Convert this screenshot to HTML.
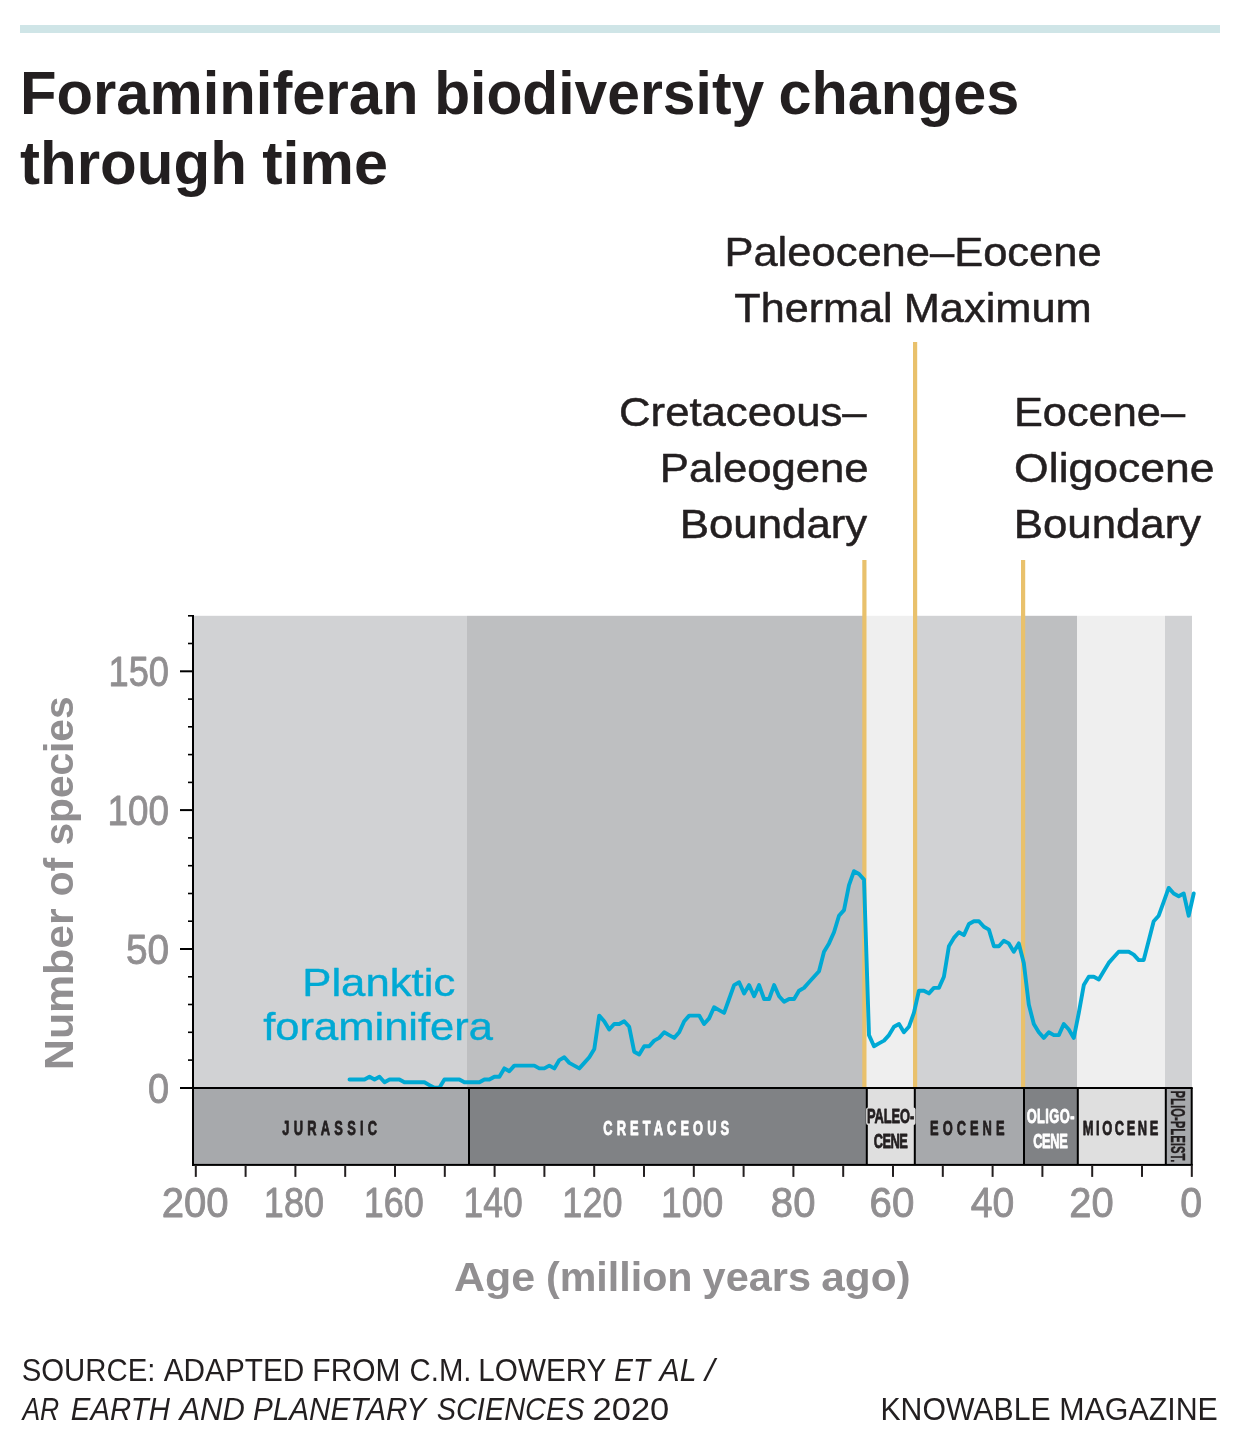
<!DOCTYPE html>
<html lang="en">
<head>
<meta charset="utf-8">
<title>Foraminiferan biodiversity changes through time</title>
<style>
html,body{margin:0;padding:0;background:#fff;}
svg{display:block;font-family:"Liberation Sans",sans-serif;}
text{white-space:pre;}
</style>
</head>
<body>
<svg width="1240" height="1442" viewBox="0 0 1240 1442">
<rect width="1240" height="1442" fill="#fff"/>
<rect x="20" y="25" width="1200" height="8" fill="#cfe5e7"/>
<rect x="194" y="615.8" width="273.0" height="472.20000000000005" fill="#d1d2d4"/>
<rect x="467" y="615.8" width="397.4" height="472.20000000000005" fill="#bebfc1"/>
<rect x="864.4" y="615.8" width="50.6" height="472.20000000000005" fill="#efefef"/>
<rect x="915" y="615.8" width="108.0" height="472.20000000000005" fill="#d1d2d4"/>
<rect x="1023" y="615.8" width="54.0" height="472.20000000000005" fill="#bebfc1"/>
<rect x="1077" y="615.8" width="88.0" height="472.20000000000005" fill="#efefef"/>
<rect x="1165" y="615.8" width="27.0" height="472.20000000000005" fill="#d1d2d4"/>
<rect x="862.3" y="560" width="4.2" height="527" fill="#e9c16c"/>
<rect x="913.0" y="342" width="4.2" height="745" fill="#e9c16c"/>
<rect x="1021.0" y="560" width="4.2" height="527" fill="#e9c16c"/>
<polyline points="349.5,1079.5 354.5,1079.5 359.5,1079.5 364.5,1079.5 369.5,1076.7 374.5,1079.5 379.5,1076.7 384.5,1082.3 389.5,1079.5 394.5,1079.5 399.4,1079.5 404.4,1082.3 409.4,1082.3 414.4,1082.3 419.4,1082.3 424.4,1082.3 429.4,1085.1 434.4,1087.8 439.4,1087.8 444.4,1079.5 449.4,1079.5 454.4,1079.5 459.4,1079.5 464.4,1082.3 469.4,1082.3 474.4,1082.3 479.4,1082.3 484.4,1079.5 489.4,1079.5 494.4,1076.7 499.4,1076.7 504.3,1068.4 509.3,1071.2 514.3,1065.6 519.3,1065.6 524.3,1065.6 529.3,1065.6 534.3,1065.6 539.3,1068.4 544.3,1068.4 549.3,1065.6 554.3,1068.4 559.3,1060.1 564.3,1057.3 569.3,1062.9 574.3,1065.6 579.3,1068.4 584.3,1062.9 589.3,1057.3 594.3,1049.0 599.2,1015.6 604.2,1021.2 609.2,1029.5 614.2,1024.0 619.2,1024.0 624.2,1021.2 629.2,1026.8 634.2,1051.7 639.2,1054.5 644.2,1046.2 649.2,1046.2 654.2,1040.6 659.2,1037.9 664.2,1032.3 669.2,1035.1 674.2,1037.9 679.2,1032.3 684.2,1021.2 689.2,1015.6 694.2,1015.6 699.2,1015.6 704.1,1024.0 709.1,1018.4 714.1,1007.3 719.1,1010.1 724.1,1012.9 729.1,999.0 734.1,985.1 739.1,982.3 744.1,993.4 749.1,985.1 754.1,996.2 759.1,985.1 764.1,999.0 769.1,999.0 774.1,985.1 779.1,996.2 784.1,1001.8 789.1,999.0 794.1,999.0 799.0,990.7 804.0,987.9 809.0,982.3 814.0,976.8 819.0,971.2 824.0,951.8 829.0,943.4 834.0,932.3 839.0,915.7 844.0,910.1 849.0,885.1 854.0,871.2 859.0,874.0 864.0,879.6 869.0,1035.1 874.0,1046.2 879.0,1043.4 884.0,1040.6 889.0,1035.1 894.0,1026.8 899.0,1024.0 903.9,1032.3 908.9,1026.8 913.9,1012.9 918.9,990.7 923.9,990.7 928.9,993.4 933.9,987.9 938.9,987.9 943.9,976.8 948.9,946.2 953.9,937.9 958.9,932.3 963.9,935.1 968.9,924.0 973.9,921.2 978.9,921.2 983.9,926.8 988.9,929.6 993.9,946.2 998.9,946.2 1003.8,940.7 1008.8,943.4 1013.8,951.8 1018.8,943.4 1023.8,962.9 1028.8,1004.5 1033.8,1024.0 1038.8,1032.3 1043.8,1037.9 1048.8,1032.3 1053.8,1035.1 1058.8,1035.1 1063.8,1024.0 1068.8,1029.5 1073.8,1037.9 1078.8,1012.9 1083.8,985.1 1088.8,976.8 1093.8,976.8 1098.8,979.5 1103.7,971.2 1108.7,962.9 1113.7,957.3 1118.7,951.8 1123.7,951.8 1128.7,951.8 1133.7,954.6 1138.7,960.1 1143.7,960.1 1148.7,940.7 1153.7,921.2 1158.7,915.7 1163.7,901.8 1168.7,887.9 1173.7,893.5 1178.7,896.2 1183.7,893.5 1188.7,915.7 1193.7,893.5" fill="none" stroke="#00a9d4" stroke-width="3.9" stroke-linejoin="round" stroke-linecap="round"/>
<rect x="193" y="1088" width="276.0" height="77" fill="#a7a9ac"/>
<rect x="469" y="1088" width="397.8" height="77" fill="#808285"/>
<rect x="866.8" y="1088" width="48.0" height="77" fill="#dfdfdf"/>
<rect x="914.8" y="1088" width="109.2" height="77" fill="#a7a9ac"/>
<rect x="1024" y="1088" width="53.8" height="77" fill="#808285"/>
<rect x="1077.8" y="1088" width="88.0" height="77" fill="#dfdfdf"/>
<rect x="1165.8" y="1088" width="25.9" height="77" fill="#a7a9ac"/>
<rect x="192" y="615" width="2" height="550.9" fill="#000"/>
<rect x="180" y="1087" width="1012.7" height="2" fill="#000"/>
<rect x="192" y="1163.9" width="1000.7" height="2" fill="#000"/>
<rect x="468.0" y="1088" width="2" height="77" fill="#000"/>
<rect x="865.8" y="1088" width="2" height="77" fill="#000"/>
<rect x="913.8" y="1088" width="2" height="77" fill="#000"/>
<rect x="1023.0" y="1088" width="2" height="77" fill="#000"/>
<rect x="1076.8" y="1088" width="2" height="77" fill="#000"/>
<rect x="1164.8" y="1088" width="2" height="77" fill="#000"/>
<rect x="1190.7" y="1088" width="2" height="77" fill="#000"/>
<rect x="188" y="1059.3" width="5" height="1.6" fill="#000"/>
<rect x="188" y="1031.5" width="5" height="1.6" fill="#000"/>
<rect x="188" y="1003.7" width="5" height="1.6" fill="#000"/>
<rect x="188" y="976.0" width="5" height="1.6" fill="#000"/>
<rect x="180" y="948.0" width="13" height="2" fill="#000"/>
<rect x="188" y="920.4" width="5" height="1.6" fill="#000"/>
<rect x="188" y="892.7" width="5" height="1.6" fill="#000"/>
<rect x="188" y="864.9" width="5" height="1.6" fill="#000"/>
<rect x="188" y="837.1" width="5" height="1.6" fill="#000"/>
<rect x="180" y="809.1" width="13" height="2" fill="#000"/>
<rect x="188" y="781.6" width="5" height="1.6" fill="#000"/>
<rect x="188" y="753.8" width="5" height="1.6" fill="#000"/>
<rect x="188" y="726.0" width="5" height="1.6" fill="#000"/>
<rect x="188" y="698.3" width="5" height="1.6" fill="#000"/>
<rect x="180" y="670.3" width="13" height="2" fill="#000"/>
<rect x="188" y="642.7" width="5" height="1.6" fill="#000"/>
<rect x="188" y="615.0" width="5" height="1.6" fill="#000"/>
<rect x="1190.8" y="1165" width="2" height="11.9" fill="#231f20"/>
<rect x="1141.0" y="1165" width="2" height="11.9" fill="#231f20"/>
<rect x="1091.2" y="1165" width="2" height="11.9" fill="#231f20"/>
<rect x="1041.4" y="1165" width="2" height="11.9" fill="#231f20"/>
<rect x="991.6" y="1165" width="2" height="11.9" fill="#231f20"/>
<rect x="941.8" y="1165" width="2" height="11.9" fill="#231f20"/>
<rect x="892.0" y="1165" width="2" height="11.9" fill="#231f20"/>
<rect x="842.2" y="1165" width="2" height="11.9" fill="#231f20"/>
<rect x="792.4" y="1165" width="2" height="11.9" fill="#231f20"/>
<rect x="742.6" y="1165" width="2" height="11.9" fill="#231f20"/>
<rect x="692.8" y="1165" width="2" height="11.9" fill="#231f20"/>
<rect x="643.0" y="1165" width="2" height="11.9" fill="#231f20"/>
<rect x="593.2" y="1165" width="2" height="11.9" fill="#231f20"/>
<rect x="543.4" y="1165" width="2" height="11.9" fill="#231f20"/>
<rect x="493.6" y="1165" width="2" height="11.9" fill="#231f20"/>
<rect x="443.8" y="1165" width="2" height="11.9" fill="#231f20"/>
<rect x="394.0" y="1165" width="2" height="11.9" fill="#231f20"/>
<rect x="344.2" y="1165" width="2" height="11.9" fill="#231f20"/>
<rect x="294.4" y="1165" width="2" height="11.9" fill="#231f20"/>
<rect x="244.6" y="1165" width="2" height="11.9" fill="#231f20"/>
<rect x="194.8" y="1165" width="2" height="11.9" fill="#231f20"/>
<text transform="translate(20.08 113.90) scale(0.9799 1)" font-size="61" fill="#231f20" font-weight="bold">Foraminiferan</text>
<text transform="translate(434.14 113.90) scale(0.9642 1)" font-size="61" fill="#231f20" font-weight="bold">biodiversity</text>
<text transform="translate(778.57 113.90) scale(0.9728 1)" font-size="61" fill="#231f20" font-weight="bold">changes</text>
<text transform="translate(20.06 183.70) scale(0.9847 1)" font-size="61" fill="#231f20" font-weight="bold">through</text>
<text transform="translate(262.15 183.70) scale(1.0033 1)" font-size="61" fill="#231f20" font-weight="bold">time</text>
<text transform="translate(724.39 266.10) scale(1.0485 1)" font-size="41.5" fill="#231f20" stroke="#231f20" stroke-width="0.5" stroke-linejoin="round">Paleocene–Eocene</text>
<text transform="translate(734.32 322.10) scale(1.0396 1)" font-size="41.5" fill="#231f20" stroke="#231f20" stroke-width="0.5" stroke-linejoin="round">Thermal</text>
<text transform="translate(903.70 322.10) scale(1.0460 1)" font-size="41.5" fill="#231f20" stroke="#231f20" stroke-width="0.5" stroke-linejoin="round">Maximum</text>
<text transform="translate(619.06 426.30) scale(1.0524 1)" font-size="41.5" fill="#231f20" stroke="#231f20" stroke-width="0.5" stroke-linejoin="round">Cretaceous–</text>
<text transform="translate(659.78 482.20) scale(1.0527 1)" font-size="41.5" fill="#231f20" stroke="#231f20" stroke-width="0.5" stroke-linejoin="round">Paleogene</text>
<text transform="translate(679.77 538.10) scale(1.0556 1)" font-size="41.5" fill="#231f20" stroke="#231f20" stroke-width="0.5" stroke-linejoin="round">Boundary</text>
<text transform="translate(1013.91 426.30) scale(1.0445 1)" font-size="41.5" fill="#231f20" stroke="#231f20" stroke-width="0.5" stroke-linejoin="round">Eocene–</text>
<text transform="translate(1014.12 482.10) scale(1.0730 1)" font-size="41.5" fill="#231f20" stroke="#231f20" stroke-width="0.5" stroke-linejoin="round">Oligocene</text>
<text transform="translate(1013.87 538.00) scale(1.0544 1)" font-size="41.5" fill="#231f20" stroke="#231f20" stroke-width="0.5" stroke-linejoin="round">Boundary</text>
<text transform="translate(302.22 995.70) scale(1.1071 1)" font-size="39.5" fill="#00a9d4" stroke="#00a9d4" stroke-width="0.4" stroke-linejoin="round">Planktic</text>
<text transform="translate(263.27 1039.70) scale(1.1017 1)" font-size="39.5" fill="#00a9d4" stroke="#00a9d4" stroke-width="0.4" stroke-linejoin="round">foraminifera</text>
<text transform="translate(454.04 1291.40) scale(1.0613 1)" font-size="40.5" fill="#918f91" font-weight="bold">Age</text>
<text transform="translate(545.96 1291.40) scale(1.0179 1)" font-size="40.5" fill="#918f91" font-weight="bold">(million</text>
<text transform="translate(702.59 1291.40) scale(1.0246 1)" font-size="40.5" fill="#918f91" font-weight="bold">years</text>
<text transform="translate(821.29 1291.40) scale(1.0456 1)" font-size="40.5" fill="#918f91" font-weight="bold">ago)</text>
<text transform="translate(73.20 1067.10) rotate(-90) translate(-2.91 0) scale(1.0571 1)" font-size="40.5" fill="#918f91" font-weight="bold">Number</text>
<text transform="translate(73.20 1067.10) rotate(-90) translate(170.79 0) scale(1.0068 1)" font-size="40.5" fill="#918f91" font-weight="bold">of</text>
<text transform="translate(73.20 1067.10) rotate(-90) translate(221.59 0) scale(1.0034 1)" font-size="40.5" fill="#918f91" font-weight="bold">species</text>
<text transform="translate(21.66 1380.60) scale(0.9633 1)" font-size="30.5" fill="#231f20">SOURCE:</text>
<text transform="translate(163.70 1380.60) scale(0.9768 1)" font-size="30.5" fill="#231f20">ADAPTED</text>
<text transform="translate(312.34 1380.60) scale(0.9829 1)" font-size="30.5" fill="#231f20">FROM</text>
<text transform="translate(409.56 1380.60) scale(0.9617 1)" font-size="30.5" fill="#231f20">C.M.</text>
<text transform="translate(478.37 1380.60) scale(0.9728 1)" font-size="30.5" fill="#231f20">LOWERY</text>
<text transform="translate(614.28 1380.60) scale(0.9157 1)" font-size="30.5" fill="#231f20" font-style="italic">ET</text>
<text transform="translate(659.58 1380.60) scale(0.9890 1)" font-size="30.5" fill="#231f20" font-style="italic">AL</text>
<text transform="translate(704.95 1380.60) scale(1.1137 1)" font-size="30.5" fill="#231f20" font-style="italic">/</text>
<text transform="translate(22.40 1419.70) scale(0.8698 1)" font-size="30.5" fill="#231f20" font-style="italic">AR</text>
<text transform="translate(70.84 1419.70) scale(0.9631 1)" font-size="30.5" fill="#231f20" font-style="italic">EARTH</text>
<text transform="translate(179.42 1419.70) scale(1.0154 1)" font-size="30.5" fill="#231f20" font-style="italic">AND</text>
<text transform="translate(253.03 1419.70) scale(0.9729 1)" font-size="30.5" fill="#231f20" font-style="italic">PLANETARY</text>
<text transform="translate(436.65 1419.70) scale(0.9489 1)" font-size="30.5" fill="#231f20" font-style="italic">SCIENCES</text>
<text transform="translate(592.50 1419.70) scale(1.1326 1)" font-size="30.5" fill="#231f20">2020</text>
<text transform="translate(880.42 1419.70) scale(0.9911 1)" font-size="30.5" fill="#231f20">KNOWABLE</text>
<text transform="translate(1059.31 1419.70) scale(0.9955 1)" font-size="30.5" fill="#231f20">MAGAZINE</text>
<text transform="translate(108.55 686.00) scale(0.8393 1)" font-size="43.2" fill="#918f91" stroke="#918f91" stroke-width="0.9" stroke-linejoin="round">150</text>
<text transform="translate(107.51 824.85) scale(0.8525 1)" font-size="43.2" fill="#918f91" stroke="#918f91" stroke-width="0.9" stroke-linejoin="round">100</text>
<text transform="translate(126.03 963.70) scale(0.8987 1)" font-size="43.2" fill="#918f91" stroke="#918f91" stroke-width="0.9" stroke-linejoin="round">50</text>
<text transform="translate(148.06 1102.55) scale(0.8785 1)" font-size="43.2" fill="#918f91" stroke="#918f91" stroke-width="0.9" stroke-linejoin="round">0</text>
<text transform="translate(161.63 1217.30) scale(0.9299 1)" font-size="43.2" fill="#918f91" stroke="#918f91" stroke-width="0.9" stroke-linejoin="round">200</text>
<text transform="translate(263.87 1217.30) scale(0.8335 1)" font-size="43.2" fill="#918f91" stroke="#918f91" stroke-width="0.9" stroke-linejoin="round">180</text>
<text transform="translate(363.67 1217.30) scale(0.8335 1)" font-size="43.2" fill="#918f91" stroke="#918f91" stroke-width="0.9" stroke-linejoin="round">160</text>
<text transform="translate(463.50 1217.30) scale(0.8202 1)" font-size="43.2" fill="#918f91" stroke="#918f91" stroke-width="0.9" stroke-linejoin="round">140</text>
<text transform="translate(562.37 1217.30) scale(0.8335 1)" font-size="43.2" fill="#918f91" stroke="#918f91" stroke-width="0.9" stroke-linejoin="round">120</text>
<text transform="translate(660.88 1217.30) scale(0.8657 1)" font-size="43.2" fill="#918f91" stroke="#918f91" stroke-width="0.9" stroke-linejoin="round">100</text>
<text transform="translate(770.86 1217.30) scale(0.9280 1)" font-size="43.2" fill="#918f91" stroke="#918f91" stroke-width="0.9" stroke-linejoin="round">80</text>
<text transform="translate(869.52 1217.30) scale(0.9332 1)" font-size="43.2" fill="#918f91" stroke="#918f91" stroke-width="0.9" stroke-linejoin="round">60</text>
<text transform="translate(970.70 1217.30) scale(0.9057 1)" font-size="43.2" fill="#918f91" stroke="#918f91" stroke-width="0.9" stroke-linejoin="round">40</text>
<text transform="translate(1069.34 1217.30) scale(0.9243 1)" font-size="43.2" fill="#918f91" stroke="#918f91" stroke-width="0.9" stroke-linejoin="round">20</text>
<text transform="translate(1180.32 1217.30) scale(0.9112 1)" font-size="43.2" fill="#918f91" stroke="#918f91" stroke-width="0.9" stroke-linejoin="round">0</text>
<text transform="translate(282.30 1134.70) scale(0.66 1)" font-size="19.5" font-weight="bold" letter-spacing="6.441" fill="#231f20" stroke="#231f20" stroke-width="0.8" stroke-linejoin="round">JURASSIC</text>
<text transform="translate(603.27 1134.70) scale(0.66 1)" font-size="19.5" font-weight="bold" letter-spacing="6.189" fill="#fff" stroke="#fff" stroke-width="0.8" stroke-linejoin="round">CRETACEOUS</text>
<rect x="866.1" y="1107.4" width="49.4" height="17.5" rx="2" fill="#dfdfdf"/>
<text transform="translate(867.04 1122.90) scale(0.66 1)" font-size="19.5" font-weight="bold" letter-spacing="-0.149" fill="#231f20" stroke="#231f20" stroke-width="0.8" stroke-linejoin="round">PALEO-</text>
<text transform="translate(873.67 1147.90) scale(0.66 1)" font-size="19.5" font-weight="bold" letter-spacing="-0.779" fill="#231f20" stroke="#231f20" stroke-width="0.8" stroke-linejoin="round">CENE</text>
<text transform="translate(930.04 1134.80) scale(0.66 1)" font-size="19.5" font-weight="bold" letter-spacing="6.093" fill="#231f20" stroke="#231f20" stroke-width="0.8" stroke-linejoin="round">EOCENE</text>
<text transform="translate(1026.67 1122.70) scale(0.66 1)" font-size="19.5" font-weight="bold" letter-spacing="0.623" fill="#fff" stroke="#fff" stroke-width="0.8" stroke-linejoin="round">OLIGO-</text>
<text transform="translate(1033.17 1147.70) scale(0.66 1)" font-size="19.5" font-weight="bold" letter-spacing="-0.527" fill="#fff" stroke="#fff" stroke-width="0.8" stroke-linejoin="round">CENE</text>
<text transform="translate(1082.84 1134.80) scale(0.66 1)" font-size="19.5" font-weight="bold" letter-spacing="3.872" fill="#231f20" stroke="#231f20" stroke-width="0.8" stroke-linejoin="round">MIOCENE</text>
<text transform="translate(1170.90 1091.00) rotate(90) translate(-0.48 0) scale(0.5667 1)" font-size="20" font-weight="bold" letter-spacing="0.000" fill="#231f20" stroke="#231f20" stroke-width="0.4" stroke-linejoin="round">PLIO-PLEIST.</text>
</svg>
</body>
</html>
